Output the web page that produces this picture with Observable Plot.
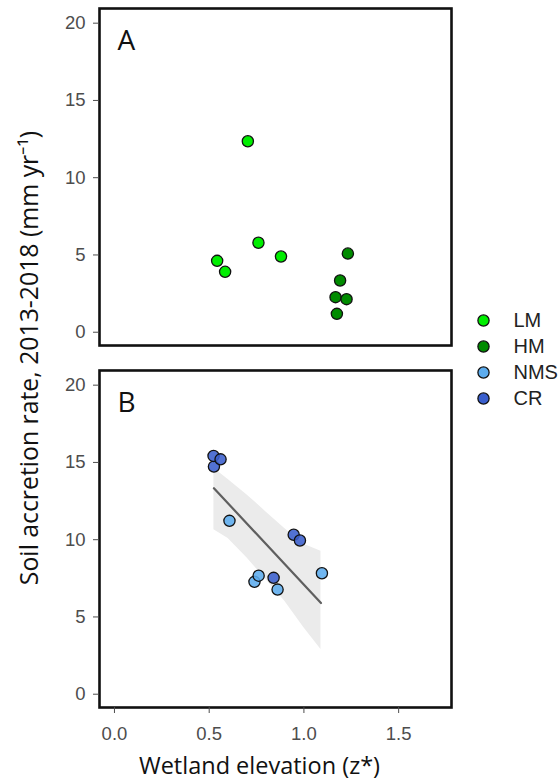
<!DOCTYPE html>
<html><head><meta charset="utf-8">
<script src="https://cdn.jsdelivr.net/npm/d3@7"></script>
<script src="https://cdn.jsdelivr.net/npm/@observablehq/plot@0.6"></script>
<style>
body{margin:0;background:#fff;}
#wrap{position:relative;width:560px;height:782px;overflow:hidden;}
#legend{position:absolute;left:470px;top:289px;}
</style></head><body><div id="wrap"><div id="main"></div><div id="legend"></div></div>
<script>
// ---- data ----
const panels = ["A", "B"];
const groups = ["LM", "HM", "NMS", "CR"];
const groupColors = ["#00EE00", "#008B00", "#5CACEE", "#3A5FCD"];
const groupPanel = ["A", "A", "B", "B"];

const lmX = [0.542, 0.584, 0.704, 0.760, 0.879];
const lmY = [4.62, 3.91, 12.36, 5.79, 4.90];
const hmX = [1.167, 1.174, 1.191, 1.225, 1.232];
const hmY = [2.27, 1.19, 3.35, 2.14, 5.09];
const nmsX = [0.607, 0.739, 0.761, 1.095, 0.861];
const nmsY = [11.22, 7.27, 7.67, 7.83, 6.77];
const crX = [0.525, 0.523, 0.560, 0.946, 0.979, 0.840];
const crY = [14.73, 15.42, 15.20, 10.32, 9.95, 7.53];

// regression fit and confidence band (panel B)
const fitX = [0.525, 1.09];
const fitY = [13.33, 5.90];
const bandX = [0.525, 0.60, 0.70, 0.80, 0.90, 1.00, 1.09];
const bandLo = [10.65, 10.08, 8.82, 7.42, 6.00, 4.30, 2.90];
const bandHi = [14.62, 13.90, 12.90, 11.80, 10.70, 9.70, 9.25];

const xTicks = [0, 0.5, 1.0, 1.5];
const yTicks = [0, 5, 10, 15, 20];
const xTitle = "Wetland elevation (z*)";
const yTitle = "Soil accretion rate, 2013-2018 (mm yr\u207B\u00B9)";

// ---- build tables ----
const seriesX = [lmX, hmX, nmsX, crX];
const seriesY = [lmY, hmY, nmsY, crY];
const points = groups.flatMap((g, i) => seriesX[i].map((x, j) => ({group: g, panel: groupPanel[i], x, y: seriesY[i][j]})));
const fit = fitX.map((x, i) => ({x, y: fitY[i], panel: "B"}));
const band = bandX.map((x, i) => ({x, lo: bandLo[i], hi: bandHi[i], panel: "B"}));

const W = 560, H = 782;
const chart = Plot.plot({
  width: W, height: H,
  marginLeft: 99, marginRight: 109, marginTop: 8, marginBottom: 75,
  style: {fontFamily: "'Liberation Sans', Arial, sans-serif", background: "#fff"},
  x: {domain: [-0.079, 1.779]},
  y: {domain: [-0.86, 20.95]},
  fy: {domain: panels, paddingInner: 0.069, paddingOuter: 0, round: false, axis: null},
  color: {domain: groups, range: groupColors},
  marks: [
    Plot.areaY(band, {x: "x", y1: "lo", y2: "hi", fy: "panel", fill: "#ebebeb"}),
    Plot.line(fit, {x: "x", y: "y", fy: "panel", stroke: "#5f5f5f", strokeWidth: 2.2}),
    Plot.dot(points, {x: "x", y: "y", fy: "panel", fill: "group", r: 5.6, stroke: "#111", strokeWidth: 1.3,
      fillOpacity: d => d.panel === "B" ? 0.88 : 1}),
    Plot.frame({stroke: "#111", strokeWidth: 2.6}),
    Plot.text(panels, {fy: d => d, text: d => d, frameAnchor: "top-left", dx: 18, dy: 22, lineAnchor: "top",
      fontSize: 28, fontFamily: "'Open Sans', sans-serif", fill: "#111"}),
    Plot.axisY(yTicks, {tickSize: 6, tickPadding: 8, fontSize: 18.5, color: "#4d4d4d", label: null}),
    Plot.axisX(xTicks, {tickSize: 6, tickPadding: 13, fontSize: 18.5, color: "#4d4d4d", label: null, tickFormat: d3.format(".1f")}),
    Plot.text([yTitle], {facet: "super", frameAnchor: "left", dx: -69, rotate: -90, textAnchor: "middle", lineAnchor: "middle",
      fontSize: 24.8, fontFamily: "'Open Sans', sans-serif", fill: "#111"}),
    Plot.text([xTitle], {facet: "super", frameAnchor: "bottom", dx: -16, dy: 59, textAnchor: "middle", lineAnchor: "middle",
      fontSize: 23.5, fontFamily: "'Open Sans', sans-serif", fill: "#111"})
  ]
});
document.getElementById("main").appendChild(chart);

const legend = Plot.plot({
  width: 90, height: 140, margin: 0,
  style: {fontFamily: "'Liberation Sans', Arial, sans-serif", background: "transparent"},
  y: {type: "point", domain: groups, range: [17, 122], axis: null},
  color: {domain: groups, range: groupColors},
  marks: [
    Plot.dot(groups, {y: d => d, frameAnchor: "left", dx: 13, fill: d => d, r: 5.6, stroke: "#111", strokeWidth: 1.3}),
    Plot.text(groups, {y: d => d, frameAnchor: "left", dx: 43, text: d => d, textAnchor: "start", fontSize: 20, fill: "#222"})
  ]
});
document.getElementById("legend").appendChild(legend);
</script></body></html>
